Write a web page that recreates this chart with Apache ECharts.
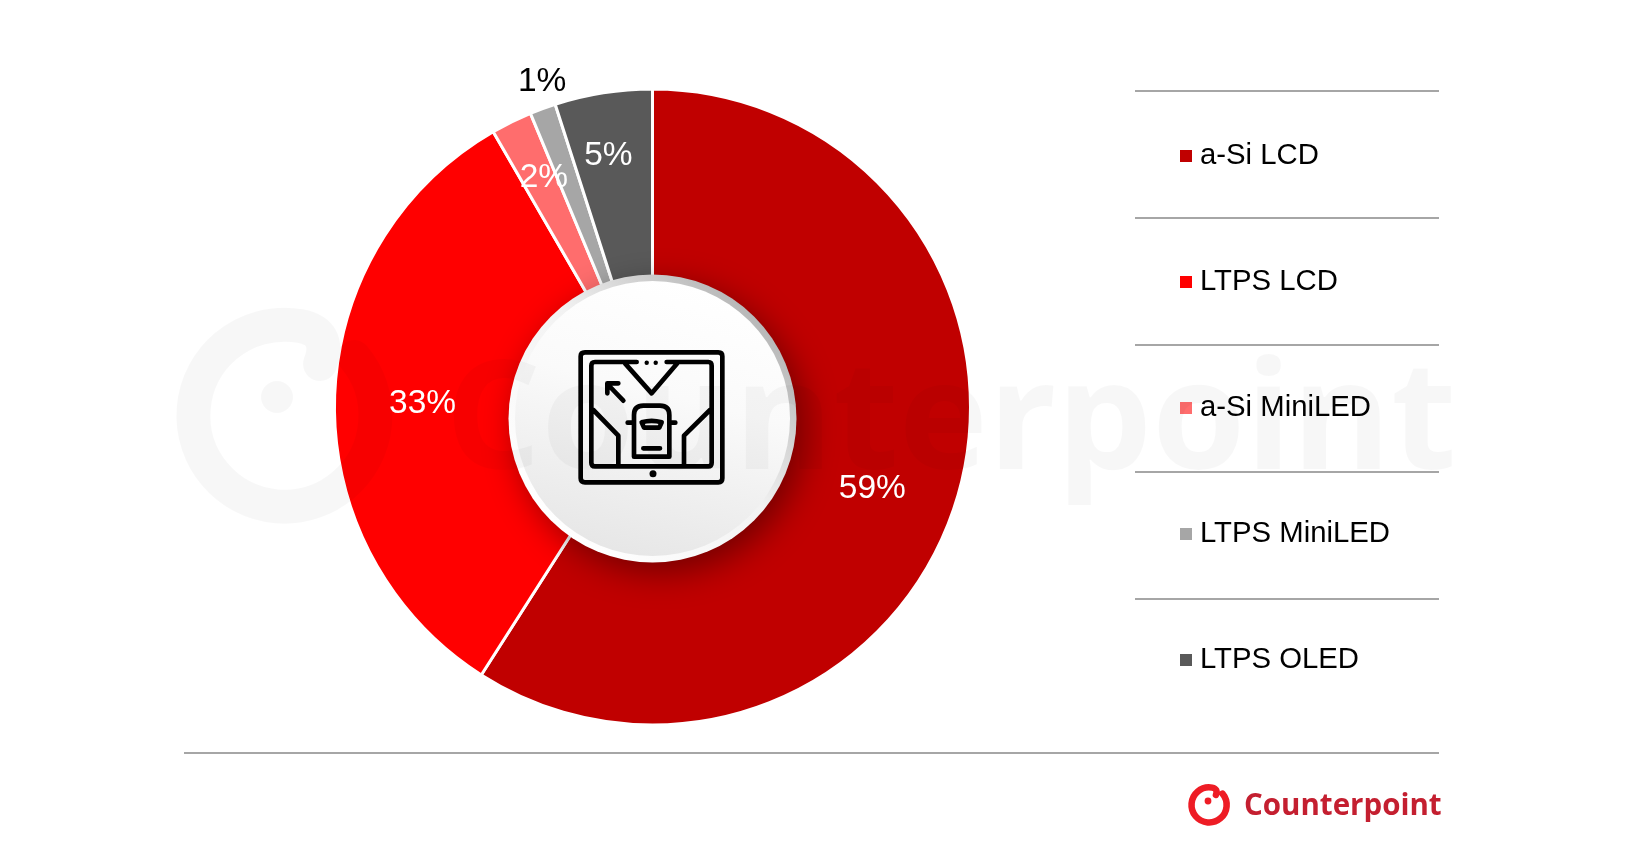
<!DOCTYPE html>
<html>
<head>
<meta charset="utf-8">
<style>html,body{margin:0;padding:0;background:#fff}#c{width:1637px;height:849px}</style>
<script src="https://cdn.jsdelivr.net/npm/echarts@6/dist/echarts.min.js"></script>
</head>
<body>
<div id="c"></div>
<script>
const categories = ['a-Si LCD', 'LTPS LCD', 'a-Si MiniLED', 'LTPS MiniLED', 'LTPS OLED'];
const shareValues = [59.05, 32.6, 2.08, 1.32, 4.95];
const sliceColors = ['#c00000', '#ff0000', '#ff6d6d', '#a6a6a6', '#595959'];
const labelColors = ['#fff', '#fff', '#fff', '#000', '#fff'];
const labelOffsets = [[2, 18], [-3, 2], [-8, -26], [-32, -112], [-9, -27]];
const ruleRows = [91, 218, 345, 472, 599];

const ringPath = 'M354 357 A91 91 0 1 1 300 326 Q332 332 320 364';
const iconFrames = 'M285 277 H685 Q697 277 697 289 V655 Q697 667 685 667 H285 Q272 667 272 655 V289 Q272 277 285 277 Z ' +
  'M440 306 H315 Q304 306 304 317 V608 Q304 619 315 619 H655 Q665 619 665 608 V317 Q665 306 655 306 H530 ' +
  'M405 310 L485 400 L562 310';
const iconDetails = 'M400 422 L352 372 M352 400 V370 H385 ' +
  'M310 450 L385 527 V615 M660 450 L582 527 V615 ' +
  'M432 590 V465 Q432 437 460 437 H510 Q538 437 538 465 V590 Z ' +
  'M413 488 H432 M538 488 H556 M455 487 Q485 478 515 487 L508 503 H462 Z M460 565 H510';

echarts.graphic.registerShape('brandRing', echarts.graphic.extendPath(ringPath, {}));
echarts.graphic.registerShape('navIcon', echarts.graphic.extendPath(iconFrames + ' ' + iconDetails, {}));

const ruleEls = ruleRows.map(y => ({
  type: 'line', z: 1, silent: true,
  shape: { x1: 1135, y1: y, x2: 1439, y2: y },
  style: { stroke: '#a6a6a6', lineWidth: 2 }
}));

const chart = echarts.init(document.getElementById('c'), null, { renderer: 'canvas' });
chart.setOption({
  animation: false,
  backgroundColor: '#fff',
  legend: {
    orient: 'vertical', left: 1175, top: 136, itemWidth: 12, itemHeight: 12, itemGap: 96,
    icon: 'rect', selectedMode: false,
    itemStyle: { borderWidth: 0 },
    textStyle: { fontFamily: 'Liberation Sans', fontSize: 29.3, color: '#000', lineHeight: 30, padding: [0, 0, 0, 3] },
    data: categories
  },
  series: [{
    type: 'pie', center: [652.5, 407], radius: [130, 318], startAngle: 90, clockwise: true,
    avoidLabelOverlap: false, silent: true, z: 2,
    itemStyle: { borderColor: '#fff', borderWidth: 3 },
    labelLine: { show: false },
    data: categories.map((name, i) => ({
      name, value: shareValues[i],
      itemStyle: { color: sliceColors[i] },
      label: {
        show: true, position: 'inside', offset: labelOffsets[i],
        formatter: p => Math.round(p.value) + '%',
        fontFamily: 'Liberation Sans', fontSize: 33.5, color: labelColors[i]
      }
    }))
  }],
  graphic: [
    ...ruleEls,
    { type: 'line', z: 1, silent: true, shape: { x1: 184, y1: 753, x2: 1439, y2: 753 }, style: { stroke: '#a6a6a6', lineWidth: 2 } },
    // centre disc
    { type: 'circle', z: 10, silent: true, shape: { cx: 652.5, cy: 418.5, r: 144 },
      style: {
        fill: { type: 'linear', x: 0.15, y: 0.85, x2: 0.85, y2: 0.15,
          colorStops: [{ offset: 0, color: '#ffffff' }, { offset: 0.55, color: '#f2f2f2' }, { offset: 1, color: '#b8b8b8' }] },
        shadowBlur: 34, shadowOffsetX: 8, shadowOffsetY: 10, shadowColor: 'rgba(0,0,0,0.4)'
      } },
    { type: 'circle', z: 11, silent: true, shape: { cx: 652.5, cy: 418.5, r: 137.5 },
      style: {
        fill: { type: 'linear', x: 0.6, y: 0, x2: 0.35, y2: 1,
          colorStops: [{ offset: 0, color: '#ffffff' }, { offset: 0.4, color: '#fafafa' }, { offset: 1, color: '#e6e6e6' }] }
      } },
    // watermark
    { type: 'text', z: 12, silent: true, x: 445, y: 426,
      style: { text: 'Counterpoint', fontFamily: 'Open Sans', fontWeight: 'bold', fontSize: 151,
        fill: 'rgba(0,0,0,0.033)', verticalAlign: 'middle', align: 'left' } },
    { type: 'brandRing', z: 12, silent: true,
      style: { fill: 'none', stroke: 'rgba(0,0,0,0.033)', lineWidth: 34, lineCap: 'round', lineJoin: 'round' } },
    { type: 'circle', z: 12, silent: true, shape: { cx: 277, cy: 397, r: 16 }, style: { fill: 'rgba(0,0,0,0.033)' } },
    // centre icon
    { type: 'navIcon', z: 13, silent: true, x: 490, y: 260, scaleX: 1 / 3, scaleY: 1 / 3,
      style: { fill: 'none', stroke: '#000', lineWidth: 14, lineCap: 'round', lineJoin: 'round' } },
    { type: 'circle', z: 13, silent: true, shape: { cx: 646.7, cy: 362.7, r: 2.2 }, style: { fill: '#000' } },
    { type: 'circle', z: 13, silent: true, shape: { cx: 655.7, cy: 362.7, r: 2.2 }, style: { fill: '#000' } },
    { type: 'circle', z: 13, silent: true, shape: { cx: 653, cy: 473.7, r: 3.5 }, style: { fill: '#000' } },
    // brand logo
    { type: 'brandRing', z: 14, silent: true, x: 1209 - 284 * 0.193, y: 805 - 416 * 0.193, scaleX: 0.193, scaleY: 0.193,
      style: { fill: 'none', stroke: '#ee1c25', lineWidth: 34, lineCap: 'round', lineJoin: 'round' } },
    { type: 'circle', z: 14, silent: true, shape: { cx: 1208, cy: 801, r: 3.4 }, style: { fill: '#ee1c25' } },
    { type: 'text', z: 14, silent: true, x: 1244, y: 807,
      style: { text: 'Counterpoint', fontFamily: 'Open Sans', fontWeight: 'bold', fontSize: 29.5,
        fill: '#c41f30', verticalAlign: 'middle', align: 'left' } }
  ]
});
</script>
</body>
</html>
